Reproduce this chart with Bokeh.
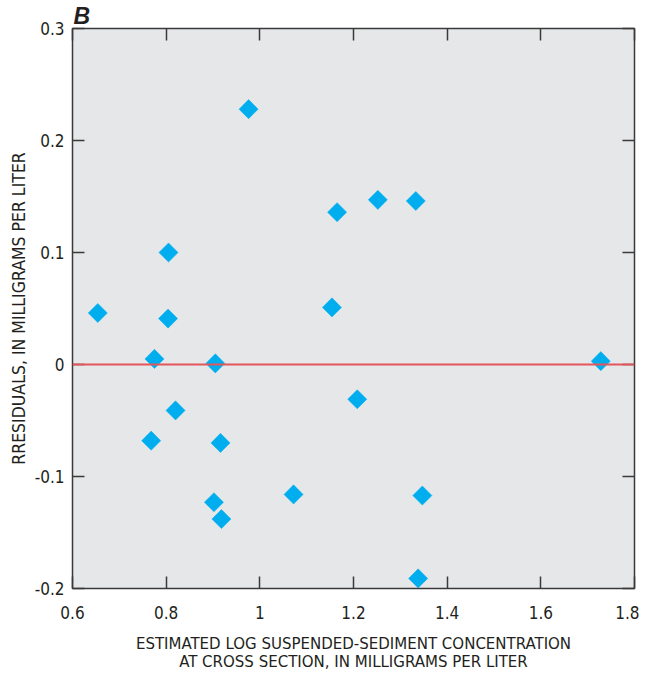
import math
from bokeh.plotting import figure
from bokeh.models import Span, LinearAxis, FixedTicker, Title, ColumnDataSource
from bokeh.embed import file_html
from bokeh.resources import INLINE

# data
est_log_ssc = [0.654, 0.768, 0.775, 0.804, 0.805, 0.820, 0.902, 0.905, 0.916, 0.918,
               0.976, 1.072, 1.154, 1.165, 1.208, 1.252, 1.333, 1.338, 1.347, 1.728]
residuals = [0.046, -0.068, 0.005, 0.041, 0.100, -0.041, -0.123, 0.001, -0.070, -0.138,
             0.228, -0.116, 0.051, 0.136, -0.031, 0.147, 0.146, -0.191, -0.117, 0.003]
x_ticks = [0.6, 0.8, 1.0, 1.2, 1.4, 1.6, 1.8]
x_tick_labels = ["0.6", "0.8", "1", "1.2", "1.4", "1.6", "1.8"]
y_ticks = [-0.2, -0.1, 0.0, 0.1, 0.2, 0.3]
y_tick_labels = ["-0.2", "-0.1", "0", "0.1", "0.2", "0.3"]

FONT = "'Liberation Sans Narrow', 'DejaVu Sans Condensed', sans-serif"
TXT = "#231f20"

p = figure(frame_width=562, frame_height=560, x_range=(0.6, 1.8), y_range=(-0.2, 0.3),
           output_backend="svg", toolbar_location=None, x_axis_location=None,
           y_axis_location=None,
           min_border_left=64, min_border_right=5, min_border_top=28, min_border_bottom=78)
p.margin = (0, 0, 0, 5)
p.background_fill_color = "#e6e7e8"
p.border_fill_color = "white"
p.outline_line_color = "#3a3a3a"
p.outline_line_width = 1.5
p.grid.visible = False

xo = {k: v for k, v in zip(x_ticks, x_tick_labels)}
yo = {k: v for k, v in zip(y_ticks, y_tick_labels)}


def mk_axis(labels, ticks, overrides, label_text=None, size="17px"):
    ax = LinearAxis(ticker=FixedTicker(ticks=ticks), major_label_overrides=overrides)
    ax.axis_line_color = None
    ax.major_tick_in = 12
    ax.major_tick_out = 0
    ax.major_tick_line_color = "#3a3a3a"
    ax.major_tick_line_width = 1.5
    ax.minor_tick_line_color = None
    if labels:
        ax.major_label_text_font = FONT
        ax.major_label_text_font_size = "17px"
        ax.major_label_text_color = TXT
        ax.axis_label = label_text
        ax.axis_label_text_font = FONT
        ax.axis_label_text_font_size = size
        ax.axis_label_text_font_style = "normal"
        ax.axis_label_text_color = TXT
        ax.axis_label_text_line_height = 0.9
    else:
        ax.major_label_text_font_size = "1px"
        ax.major_label_standoff = 0
    return ax


xb = mk_axis(True, x_ticks, xo,
             "ESTIMATED LOG SUSPENDED-SEDIMENT CONCENTRATION\nAT CROSS SECTION, IN MILLIGRAMS PER LITER",
             size="16.7px")
xb.major_label_standoff = 17
xb.axis_label_standoff = 11
p.add_layout(xb, "below")

yl = mk_axis(True, y_ticks, yo, "RRESIDUALS, IN MILLIGRAMS PER LITER", size="17.5px")
yl.major_label_standoff = 8
yl.axis_label_standoff = 3
p.add_layout(yl, "left")

p.add_layout(mk_axis(False, x_ticks, {t: "" for t in x_ticks}), "above")
p.add_layout(mk_axis(False, y_ticks, {t: "" for t in y_ticks}), "right")

p.add_layout(Span(location=0, dimension="width", line_color="#e2565c", line_width=2))

src = ColumnDataSource(data=dict(x=est_log_ssc, y=residuals))
p.scatter("x", "y", source=src, marker="square", size=13.5, angle=math.pi / 4,
          fill_color="#00aeef", line_color="#00aeef", line_width=0.5)

p.add_layout(Title(text="B", align="left",
                   text_font="'Liberation Sans', Arial, sans-serif",
                   text_font_size="23px", text_font_style="bold italic",
                   text_color=TXT, standoff=0, offset=1, text_line_height=0.9), "above")

open("out.html", "w").write(file_html(p, INLINE))
